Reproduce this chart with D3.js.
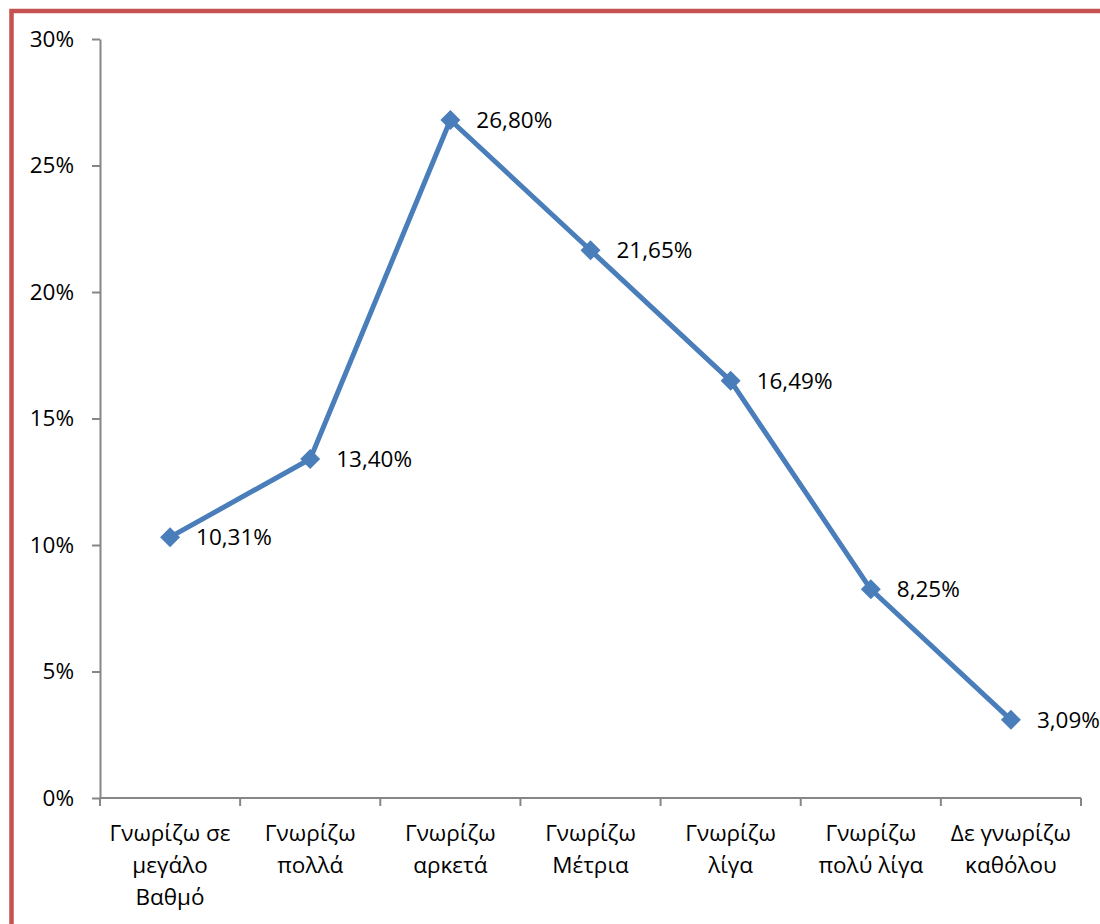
<!DOCTYPE html>
<html><head><meta charset="utf-8">
<script src="https://cdn.jsdelivr.net/npm/d3@7"></script>
<style>body{margin:0;background:#fff}svg{display:block}</style>
</head><body>
<svg id="c" width="1100" height="924"></svg>
<script>
const categories = [
  ["Γνωρίζω σε","μεγάλο","Βαθμό"],
  ["Γνωρίζω","πολλά"],
  ["Γνωρίζω","αρκετά"],
  ["Γνωρίζω","Μέτρια"],
  ["Γνωρίζω","λίγα"],
  ["Γνωρίζω","πολύ λίγα"],
  ["Δε γνωρίζω","καθόλου"]
];
const values = [10.31, 13.40, 26.80, 21.65, 16.49, 8.25, 3.09];
const valueLabels = ["10,31%","13,40%","26,80%","21,65%","16,49%","8,25%","3,09%"];
const yTicks = [0,5,10,15,20,25,30];

const svg = d3.select("#c");
const font = "'Open Sans', sans-serif";
const fs = 22.5;
// border
svg.append("rect").attr("x",11.5).attr("y",11).attr("width",1200).attr("height",1000)
  .attr("fill","none").attr("stroke","#c55250").attr("stroke-width",4.5);

const x0 = 100, x1 = 1081, y0 = 798, y1 = 39;
const x = d3.scaleBand().domain(d3.range(categories.length)).range([x0,x1]);
const y = d3.scaleLinear().domain([0,30]).range([y0,y1]);
const axisColor = "#868686";

// y axis
const ya = svg.append("g").attr("transform",`translate(${x0},0)`)
  .call(d3.axisLeft(y).tickValues(yTicks).tickFormat(d=>d+"%").tickSize(8).tickSizeOuter(0));
ya.select(".domain").attr("stroke",axisColor).attr("stroke-width",2);
ya.selectAll(".tick line").attr("stroke",axisColor).attr("stroke-width",2);
ya.selectAll(".tick text").attr("font-family",font).attr("font-size",fs).attr("fill","#000").attr("x",-26);

// x axis
const xa = svg.append("g").attr("transform",`translate(0,${y0})`);
xa.append("line").attr("x1",x0).attr("x2",x1).attr("stroke",axisColor).attr("stroke-width",2);
const bounds = d3.range(categories.length+1).map(i=> i<categories.length ? x(i) : x1);
xa.selectAll("line.t").data(bounds).join("line").attr("class","t")
  .attr("x1",d=>d).attr("x2",d=>d).attr("y1",0).attr("y2",8)
  .attr("stroke",axisColor).attr("stroke-width",2);
const lab = xa.selectAll("text.c").data(categories).join("text").attr("class","c")
  .attr("font-family",font).attr("font-size",fs).attr("text-anchor","middle").attr("fill","#000");
lab.each(function(d,i){
  d3.select(this).selectAll("tspan").data(d).join("tspan")
    .attr("x", x(i)+x.bandwidth()/2).attr("y",(e,j)=>43+j*32).text(e=>e);
});

// line
const cx = i => x(i)+x.bandwidth()/2;
svg.append("path").datum(values)
  .attr("d", d3.line().x((d,i)=>cx(i)).y(d=>y(d)))
  .attr("fill","none").attr("stroke","#4a7ebb").attr("stroke-width",5).attr("stroke-linejoin","round");
svg.selectAll("path.m").data(values).join("path").attr("class","m")
  .attr("d", d3.symbol(d3.symbolSquare, 200))
  .attr("transform",(d,i)=>`translate(${cx(i)},${y(d)}) rotate(45)`)
  .attr("fill","#4a7ebb");
svg.selectAll("text.v").data(values).join("text").attr("class","v")
  .attr("x",(d,i)=>cx(i)+26).attr("y",d=>y(d)).attr("dy","0.36em")
  .attr("font-family",font).attr("font-size",fs).attr("fill","#000")
  .text((d,i)=>valueLabels[i]);
</script>
</body></html>
